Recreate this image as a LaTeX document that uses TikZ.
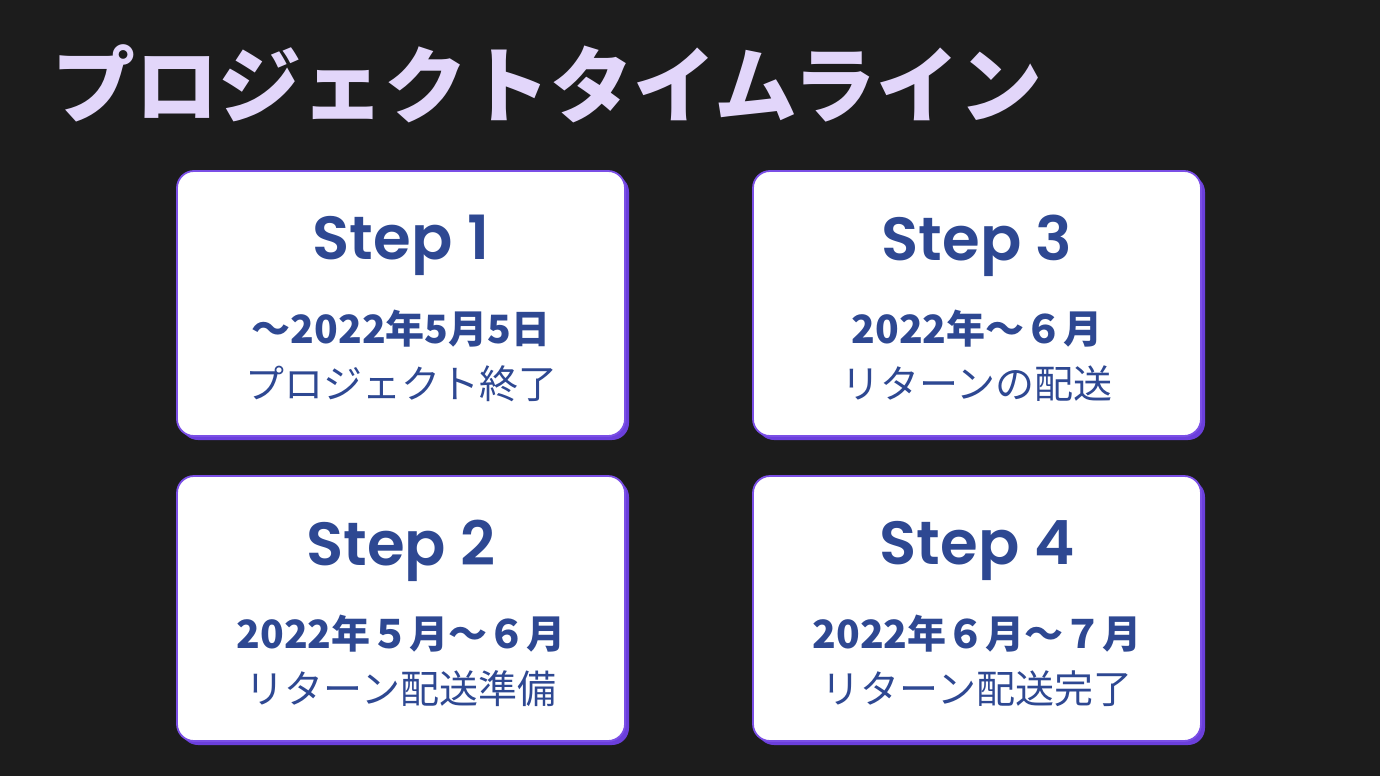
\documentclass[tikz,border=0pt]{standalone}
\usepackage{fontspec}
\newfontfamily\cjk{Noto Sans CJK JP}
\newfontfamily\stepfont{Poppins}[BoldFont={Poppins SemiBold}]
\definecolor{bgc}{HTML}{1C1C1C}
\definecolor{titlec}{HTML}{E2D6FA}
\definecolor{boxedge}{HTML}{7B4FE6}
\definecolor{boxshadow}{HTML}{6B3FDC}
\definecolor{textc}{HTML}{2E4892}
\usetikzlibrary{shadows}
\tikzset{
  card/.style={draw=boxedge, line width=1.8pt, fill=white, rounded corners=17pt,
    minimum width=448pt, minimum height=265pt, inner sep=0pt,
    drop shadow={shadow xshift=4pt, shadow yshift=-4pt, fill=boxshadow, opacity=1}},
  steptitle/.style={font=\stepfont\bfseries\fontsize{61}{64}\selectfont, text=textc, inner sep=0pt},
  dateline/.style={font=\cjk\bfseries\fontsize{39}{44}\selectfont, text=textc, inner sep=0pt},
  descline/.style={font=\cjk\fontsize{39}{44}\selectfont, text=textc, inner sep=0pt},
}
\begin{document}
\begin{tikzpicture}[x=1pt,y=-1pt]
\fill[bgc] (0,0) rectangle (1380,776);
\useasboundingbox (0,0) rectangle (1380,776);
\node[anchor=west, inner sep=0pt, text=titlec, font=\cjk\bfseries\fontsize{83}{86}\selectfont] (title) at (52,84) {プロジェクトタイムライン};
% cards
\node[card] (c1) at (401,303.5) {};
\node[card] (c2) at (401,608.5) {};
\node[card] (c3) at (977,303.5) {};
\node[card] (c4) at (977,608.5) {};
% card 1
\node[steptitle] (s1) at ([yshift=58pt]c1.center) {Step 1};
\node[dateline] (d1) at ([yshift=-25pt]c1.center) {〜2022年5月5日};
\node[descline] (t1) at ([yshift=-80pt]c1.center) {プロジェクト終了};
% card 2
\node[steptitle] (s2) at ([yshift=58pt]c2.center) {Step 2};
\node[dateline] (d2) at ([yshift=-25pt]c2.center) {2022年５月〜６月};
\node[descline] (t2) at ([yshift=-80pt]c2.center) {リターン配送準備};
% card 3
\node[steptitle] (s3) at ([yshift=58pt]c3.center) {Step 3};
\node[dateline] (d3) at ([yshift=-25pt]c3.center) {2022年〜６月};
\node[descline] (t3) at ([yshift=-80pt]c3.center) {リターンの配送};
% card 4
\node[steptitle] (s4) at ([yshift=58pt]c4.center) {Step 4};
\node[dateline] (d4) at ([yshift=-25pt]c4.center) {2022年６月〜７月};
\node[descline] (t4) at ([yshift=-80pt]c4.center) {リターン配送完了};
\end{tikzpicture}
\end{document}
